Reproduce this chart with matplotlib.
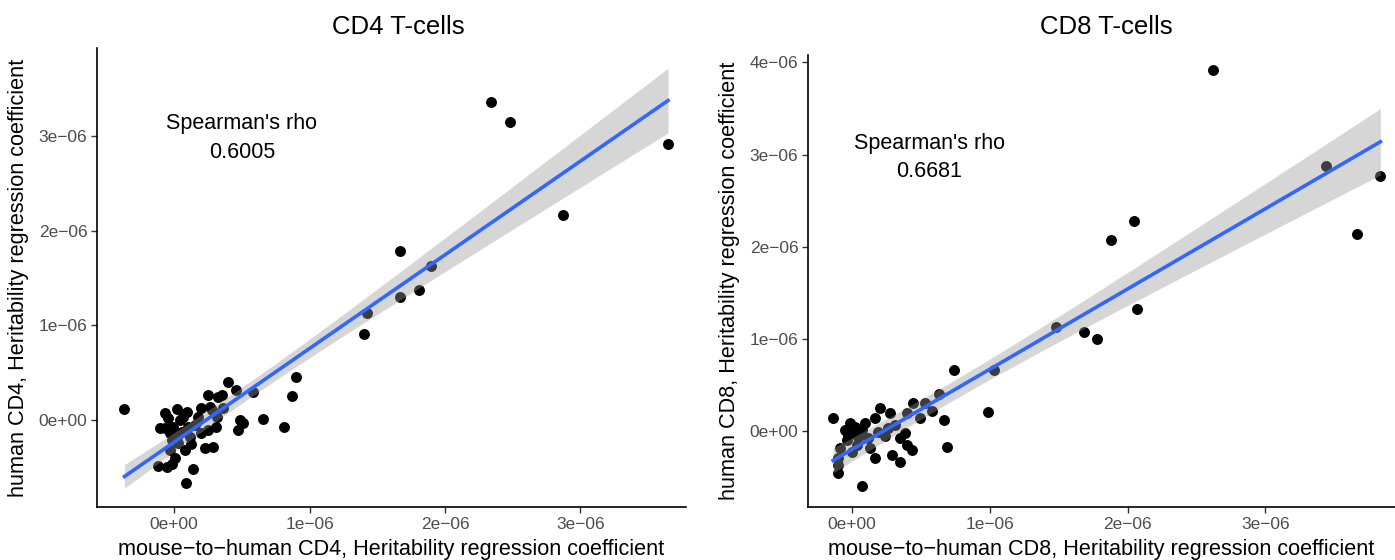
import numpy as np
import matplotlib
matplotlib.use('Agg')
import matplotlib.pyplot as plt
from matplotlib.ticker import FixedLocator

# values in units of 1e-6
cd4_mouse = [-0.367, -0.066, 0.022, 0.066, -0.066, -0.007, 0.022, 0.103, 0.117,
             0.029, -0.029, 0.081, 0.007, -0.051, -0.015, -0.117, 0.139, 0.088,
             0.249, 0.323, 0.264, 0.315, 0.249, 0.227, 0.286, 0.176, 0.396,
             0.352, 0.455, 0.580, 0.902, 0.873, 0.279, 0.360, 0.308, 0.484,
             0.506, 0.470, 0.653, 0.814, 0.044, -0.044, 0.154, 0.198, 0.059,
             -0.015, 0.125, 0.198, 1.401, 1.423, 1.665, 1.805, 1.900, 1.665,
             2.869, 2.340, 2.480, 3.647, -0.103, -0.029, 0.095]
cd4_human = [0.116, 0.074, 0.116, 0.032, -0.084, -0.074, -0.180, -0.074, -0.180,
             -0.243, -0.317, -0.317, -0.401, -0.496, -0.465, -0.486, -0.517, -0.665,
             0.264, 0.243, 0.137, 0.032, -0.106, -0.296, -0.285, 0.032, 0.401,
             0.264, 0.317, 0.296, 0.454, 0.253, 0.106, 0.127, -0.074, 0.000,
             -0.032, -0.106, 0.011, -0.074, 0.000, 0.021, -0.053, -0.137, -0.127,
             -0.211, -0.253, 0.127, 0.908, 1.130, 1.299, 1.373, 1.626, 1.785,
             2.165, 3.358, 3.147, 2.914, -0.084, -0.137, 0.084]

cd8_mouse = [-0.138, -0.015, -0.051, 0.007, -0.036, -0.087, -0.102, -0.102, -0.102,
             0.073, 0.094, 0.167, 0.203, 0.276, 0.189, 0.261, 0.116, 0.131,
             0.167, 0.036, 0.000, 0.290, 0.349, 0.349, 0.385, 0.436, 0.399,
             0.443, 0.044, 0.530, 0.632, 0.399, 0.494, 0.581, 0.668, 0.988,
             0.690, 0.741, 1.031, 0.022, 0.073, -0.029, 0.240, 0.312, 1.481,
             1.685, 1.779, 2.070, 1.881, 2.048, 2.622, 3.442, 3.834, 3.667]
cd8_human = [0.141, 0.087, 0.011, -0.022, -0.098, -0.184, -0.293, -0.369, -0.455,
             -0.596, 0.087, 0.141, 0.249, 0.195, -0.011, 0.033, -0.076, -0.184,
             -0.293, -0.152, -0.228, -0.260, -0.336, -0.076, -0.022, -0.206, -0.152,
             0.304, -0.065, 0.304, 0.401, 0.195, 0.141, 0.217, 0.119, 0.206,
             -0.173, 0.661, 0.661, 0.043, 0.011, -0.054, -0.054, 0.065, 1.127,
             1.073, 0.997, 1.323, 2.070, 2.276, 3.913, 2.873, 2.764, 2.136]

panels = [
    dict(title='CD4 T-cells', x=cd4_mouse, y=cd4_human, rho='0.6005',
         xlabel='mouse\u2212to\u2212human CD4, Heritability regression coefficient',
         ylabel='human CD4, Heritability regression coefficient',
         yticks=[0, 1, 2, 3], xlim=(-0.57, 3.78), ylim=(-0.92, 3.93),
         rect=[97 / 1395, 53 / 560, 589 / 1395, 459 / 560],
         rho_pos=(0.50, 2.98), title_x=398 / 1395),
    dict(title='CD8 T-cells', x=cd8_mouse, y=cd8_human, rho='0.6681',
         xlabel='mouse\u2212to\u2212human CD8, Heritability regression coefficient',
         ylabel='human CD8, Heritability regression coefficient',
         yticks=[0, 1, 2, 3, 4], xlim=(-0.32, 3.94), ylim=(-0.82, 4.08),
         rect=[808 / 1395, 53 / 560, 587 / 1395, 452 / 560],
         rho_pos=(0.56, 2.97), title_x=1106 / 1395),
]

tick_labels = {0: '0e+00', 1: '1e\u221206', 2: '2e\u221206', 3: '3e\u221206', 4: '4e\u221206'}

plt.rcParams['font.family'] = ['Liberation Sans', 'DejaVu Sans']
fig = plt.figure(figsize=(13.95, 5.6), dpi=100)

for p in panels:
    ax = fig.add_axes(p['rect'])
    x = np.array(p['x']) * 1e-6
    y = np.array(p['y']) * 1e-6
    ax.scatter(x, y, s=62, color='black', linewidths=0, zorder=2)

    # linear fit with 95% confidence band
    n = len(x)
    slope, icpt = np.polyfit(x, y, 1)
    resid = y - (slope * x + icpt)
    s = np.sqrt(np.sum(resid ** 2) / (n - 2))
    sxx = np.sum((x - x.mean()) ** 2)
    xs = np.linspace(x.min(), x.max(), 100)
    fit = slope * xs + icpt
    se = s * np.sqrt(1 / n + (xs - x.mean()) ** 2 / sxx)
    ax.fill_between(xs, fit - 2.0 * se, fit + 2.0 * se, color='#999999',
                    alpha=0.4, linewidth=0, zorder=3)
    ax.plot(xs, fit, color='#3366FF', lw=2.6, zorder=4)

    ax.text(p['rho_pos'][0] * 1e-6, p['rho_pos'][1] * 1e-6,
            "Spearman's rho\n" + p['rho'], ha='center', va='center',
            fontsize=15.5, linespacing=1.45)

    ax.set_xlim(p['xlim'][0] * 1e-6, p['xlim'][1] * 1e-6)
    ax.set_ylim(p['ylim'][0] * 1e-6, p['ylim'][1] * 1e-6)
    ax.xaxis.set_major_locator(FixedLocator([v * 1e-6 for v in [0, 1, 2, 3]]))
    ax.yaxis.set_major_locator(FixedLocator([v * 1e-6 for v in p['yticks']]))
    ax.set_xticklabels([tick_labels[v] for v in [0, 1, 2, 3]])
    ax.set_yticklabels([tick_labels[v] for v in p['yticks']])
    ax.tick_params(length=4, width=1, color='#333333', labelcolor='#4D4D4D',
                   labelsize=12.5, pad=3)
    for side in ['top', 'right']:
        ax.spines[side].set_visible(False)
    for side in ['left', 'bottom']:
        ax.spines[side].set_linewidth(1.2)
    ax.set_xlabel(p['xlabel'], fontsize=15.6, labelpad=5.5)
    ax.set_ylabel(p['ylabel'], fontsize=15.6, labelpad=7)
    fig.text(p['title_x'], 1 - 27 / 560, p['title'], ha='center',
             va='center', fontsize=18.5)

fig.savefig('out.png', dpi=100)
